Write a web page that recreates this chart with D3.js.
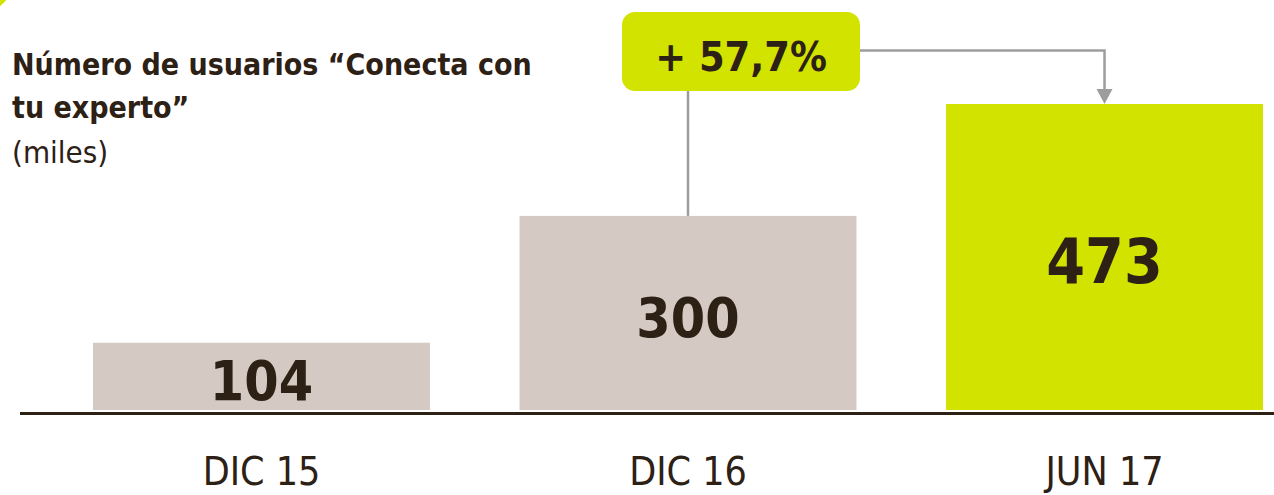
<!DOCTYPE html>
<html>
<head>
<meta charset="utf-8">
<script src="https://cdn.jsdelivr.net/npm/d3@7"></script>
<style>
  html, body { margin: 0; padding: 0; background: #fff; }
  svg { display: block; }
  text { font-family: 'DejaVu Sans Condensed', 'DejaVu Sans', sans-serif; font-stretch: condensed; fill: #2d2015; }
</style>
</head>
<body>
<div id="chart"></div>
<script>
// data
const categories = ['DIC 15', 'DIC 16', 'JUN 17'];
const values = [104, 300, 473];
const highlight = [false, false, true];
const titleLines = ['Número de usuarios “Conecta con', 'tu experto”'];
const unitLabel = '(miles)';

const width = 1274;
const height = 495;
const baseY = 410;
const plotRight = 1263;

const colors = {
  bar: '#d4c9c3',
  lime: '#d2e300',
  ink: '#2d2015',
  connector: '#9d9d9d',
};

const svg = d3.select('#chart').append('svg')
  .attr('width', width)
  .attr('height', height);

// bit of a lime shape poking in at the corner
svg.append('circle')
  .attr('cx', -30).attr('cy', -30).attr('r', 47)
  .attr('fill', colors.lime);

const x = d3.scaleBand()
  .domain(categories)
  .range([93, 1283])
  .paddingInner(0.21);

const y = d3.scaleLinear()
  .domain([0, d3.max(values)])
  .range([baseY, 104]);

const data = categories.map((c, i) => ({ cat: c, value: values[i], hl: highlight[i] }));

// last bar is cut by the right edge
svg.append('clipPath').attr('id', 'plot-clip')
  .append('rect')
  .attr('x', 0).attr('y', 0)
  .attr('width', plotRight).attr('height', height);

const visibleCenter = (d) => {
  const x0 = x(d.cat);
  const x1 = Math.min(x0 + x.bandwidth(), plotRight);
  return (x0 + x1) / 2;
};

const bars = svg.append('g').attr('clip-path', 'url(#plot-clip)');

bars.selectAll('rect')
  .data(data)
  .join('rect')
  .attr('x', d => x(d.cat))
  .attr('y', d => y(d.value))
  .attr('width', x.bandwidth())
  .attr('height', d => baseY - y(d.value))
  .attr('fill', d => d.hl ? colors.lime : colors.bar);

// value labels, centred in each bar
svg.append('g').selectAll('text')
  .data(data)
  .join('text')
  .attr('x', d => visibleCenter(d))
  .attr('y', d => (y(d.value) + baseY) / 2 + 4)
  .attr('dy', '0.36em')
  .attr('text-anchor', 'middle')
  .style('font-weight', 'bold')
  .style('font-size', d => d.hl ? '62px' : '55px')
  .text(d => d.value);

// baseline
svg.append('line')
  .attr('x1', 20).attr('x2', width)
  .attr('y1', 413.5).attr('y2', 413.5)
  .attr('stroke', colors.ink)
  .attr('stroke-width', 3);

// category labels
svg.append('g').selectAll('text')
  .data(data)
  .join('text')
  .attr('x', d => visibleCenter(d))
  .attr('y', 485)
  .attr('text-anchor', 'middle')
  .style('font-size', '39px')
  .text(d => d.cat);

// title
const title = svg.append('text')
  .attr('x', 12)
  .style('font-weight', 'bold')
  .style('font-size', '30px');
title.selectAll('tspan')
  .data(titleLines)
  .join('tspan')
  .attr('x', 12)
  .attr('y', (d, i) => 75 + i * 43)
  .text(d => d);

svg.append('text')
  .attr('x', 12).attr('y', 163)
  .style('font-size', '31px')
  .text(unitLabel);

// growth callout between DIC 16 and JUN 17
const from = data[1];
const to = data[2];
const growth = (to.value - from.value) / from.value;
const growthText = '+ ' + d3.format('.1%')(growth).replace('.', ',');

const box = { x: 622, y: 12, w: 238, h: 79 };
const lineY = 50.5;
const arrowH = 15;
const toX = visibleCenter(to);

const conn = svg.append('g')
  .attr('fill', 'none')
  .attr('stroke', colors.connector)
  .attr('stroke-width', 2.5);

conn.append('line')
  .attr('x1', visibleCenter(from)).attr('x2', visibleCenter(from))
  .attr('y1', box.y + box.h).attr('y2', y(from.value));

conn.append('path')
  .attr('d', `M${box.x + box.w},${lineY}H${toX}V${y(to.value) - arrowH}`);

svg.append('path')
  .attr('d', `M${toX - 8},${y(to.value) - arrowH}L${toX + 8},${y(to.value) - arrowH}L${toX},${y(to.value)}Z`)
  .attr('fill', colors.connector);

svg.append('rect')
  .attr('x', box.x).attr('y', box.y)
  .attr('width', box.w).attr('height', box.h)
  .attr('rx', 13)
  .attr('fill', colors.lime);

svg.append('text')
  .attr('x', box.x + box.w / 2)
  .attr('y', 71)
  .attr('text-anchor', 'middle')
  .style('font-weight', 'bold')
  .style('font-size', '41px')
  .text(growthText);
</script>
</body>
</html>
